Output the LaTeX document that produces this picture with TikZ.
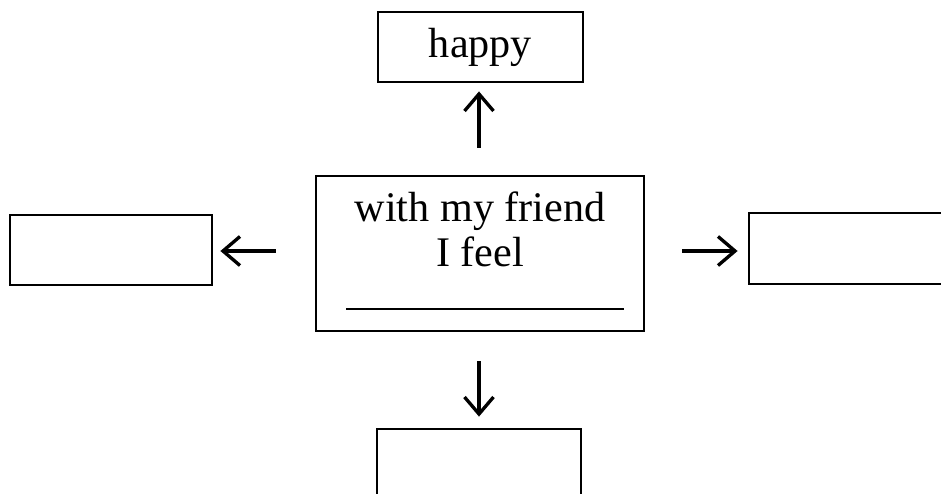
\documentclass[tikz,border=0pt]{standalone}
\usepackage{fontspec}
\setmainfont{Liberation Serif}
\usetikzlibrary{arrows.meta}
\begin{document}
\begin{tikzpicture}[
    box/.style={draw,line width=1.6pt,inner sep=0pt},
    arr/.style={line width=1.9pt,-{Straight Barb[length=0.34cm,width=0.58cm,line width=1.9pt]}},
    font=\fontsize{24}{26}\selectfont]
    \clip (0,0) rectangle (18.82,9.86);
    \useasboundingbox (0,0) rectangle (18.82,9.86);

    \node[box,minimum width=4.10cm,minimum height=1.40cm] (happy) at (9.61,8.92) {happy};
    \node[box,minimum width=6.56cm,minimum height=3.10cm] (feel) at (9.60,4.79) {};
    \node[align=center] (feeltext) at (9.60,5.27) {with my friend\\I feel};
    \draw[line width=1.5pt] (6.92,3.68) -- (12.48,3.68);
    \node[box,minimum width=4.04cm,minimum height=1.40cm] (left) at (2.22,4.86) {};
    \node[box,minimum width=4.04cm,minimum height=1.42cm] (right) at (17.00,4.89) {};
    \node[box,minimum width=4.08cm,minimum height=1.40cm] (down) at (9.58,0.58) {};

    \draw[arr,shorten <=0.54cm,shorten >=0.16cm] (feel.north -| 9.58,0) -- (happy.south -| 9.58,0);
    \draw[arr,shorten <=0.78cm,shorten >=0.14cm] (feel.west |- 0,4.84) -- (left.east |- 0,4.84);
    \draw[arr,shorten <=0.74cm,shorten >=0.20cm] (feel.east |- 0,4.84) -- (right.west |- 0,4.84);
    \draw[arr,shorten <=0.58cm,shorten >=0.22cm] (feel.south -| 9.58,0) -- (down.north -| 9.58,0);
\end{tikzpicture}
\end{document}
